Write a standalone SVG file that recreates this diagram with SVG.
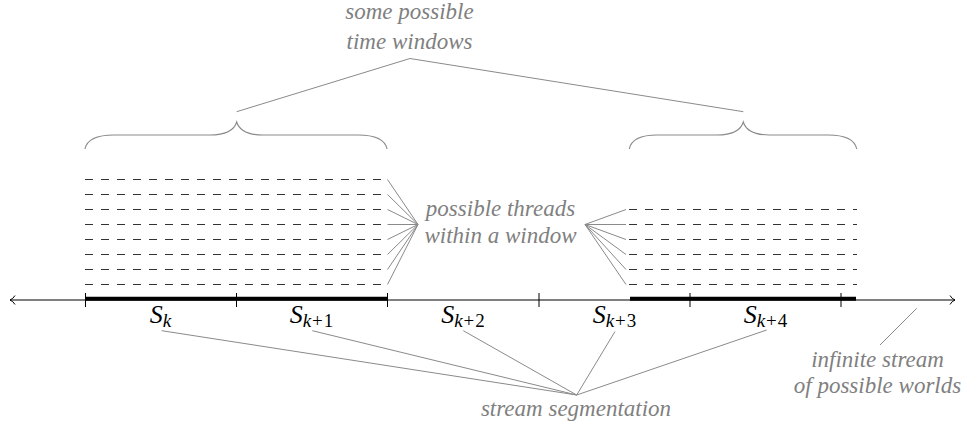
<svg xmlns="http://www.w3.org/2000/svg" width="969" height="431" viewBox="0 0 969 431">
<rect width="969" height="431" fill="#fff"/>

<g id="axis" stroke="#000" stroke-width="1" fill="none">
  <line x1="10" y1="300" x2="955" y2="300"/>
  <path d="M15,295.5 Q13,299 10,300 Q13,301 15,304.5"/>
  <path d="M950,295.5 Q952,299 955,300 Q952,301 950,304.5"/>
  <line x1="85" y1="298.7" x2="387" y2="298.7" stroke-width="4"/>
  <line x1="630" y1="298.7" x2="856" y2="298.7" stroke-width="4"/>
  <line x1="85.5" y1="293" x2="85.5" y2="307"/>
  <line x1="236.5" y1="293" x2="236.5" y2="307"/>
  <line x1="387.5" y1="293" x2="387.5" y2="307"/>
  <line x1="539" y1="293" x2="539" y2="307"/>
  <line x1="690" y1="293" x2="690" y2="307"/>
  <line x1="841" y1="293" x2="841" y2="307"/>
</g>

<g id="seg-k"><text x="160.5" y="323" font-family="'Times New Roman', 'Liberation Serif', serif" font-size="26" fill="#000" text-anchor="middle"><tspan font-style="italic">S</tspan><tspan font-size="19" font-style="italic" dy="4">k</tspan></text></g>
<g id="seg-k1"><text x="311.5" y="323" font-family="'Times New Roman', 'Liberation Serif', serif" font-size="26" fill="#000" text-anchor="middle"><tspan font-style="italic">S</tspan><tspan font-size="19" dy="4"><tspan font-style="italic">k</tspan><tspan dx="1">+</tspan><tspan dx="1">1</tspan></tspan></text></g>
<g id="seg-k2"><text x="463" y="323" font-family="'Times New Roman', 'Liberation Serif', serif" font-size="26" fill="#000" text-anchor="middle"><tspan font-style="italic">S</tspan><tspan font-size="19" dy="4"><tspan font-style="italic">k</tspan><tspan dx="1">+</tspan><tspan dx="1">2</tspan></tspan></text></g>
<g id="seg-k3"><text x="614.5" y="323" font-family="'Times New Roman', 'Liberation Serif', serif" font-size="26" fill="#000" text-anchor="middle"><tspan font-style="italic">S</tspan><tspan font-size="19" dy="4"><tspan font-style="italic">k</tspan><tspan dx="1">+</tspan><tspan dx="1">3</tspan></tspan></text></g>
<g id="seg-k4"><text x="765.5" y="323" font-family="'Times New Roman', 'Liberation Serif', serif" font-size="26" fill="#000" text-anchor="middle"><tspan font-style="italic">S</tspan><tspan font-size="19" dy="4"><tspan font-style="italic">k</tspan><tspan dx="1">+</tspan><tspan dx="1">4</tspan></tspan></text></g>

<g id="threads-left" stroke="#333" stroke-width="1" stroke-dasharray="8 8" fill="none">
  <line x1="85" y1="179.5" x2="387" y2="179.5"/>
  <line x1="85" y1="194.5" x2="387" y2="194.5"/>
  <line x1="85" y1="209.5" x2="387" y2="209.5"/>
  <line x1="85" y1="224.5" x2="387" y2="224.5"/>
  <line x1="85" y1="239.5" x2="387" y2="239.5"/>
  <line x1="85" y1="254.5" x2="387" y2="254.5"/>
  <line x1="85" y1="269.5" x2="387" y2="269.5"/>
  <line x1="85" y1="284.5" x2="387" y2="284.5"/>
</g>
<g id="threads-right" stroke="#333" stroke-width="1" stroke-dasharray="8 8" fill="none">
  <line x1="629" y1="209.5" x2="857" y2="209.5"/>
  <line x1="629" y1="224.5" x2="857" y2="224.5"/>
  <line x1="629" y1="239.5" x2="857" y2="239.5"/>
  <line x1="629" y1="254.5" x2="857" y2="254.5"/>
  <line x1="629" y1="269.5" x2="857" y2="269.5"/>
  <line x1="629" y1="284.5" x2="857" y2="284.5"/>
</g>

<g id="window-left" stroke="#8a8a8a" stroke-width="1.1" fill="none">
  <path d="M85,149 C87,139 97,135 114,135 L210,135 C225,135 234,131 236.7,122 C239.4,131 248,135 263,135 L358,135 C375,135 385,139 387,149"/>
</g>
<g id="window-right" stroke="#8a8a8a" stroke-width="1.1" fill="none">
  <path d="M629.3,149 C631.3,139 641,135 657,135 L717,135 C732,135 740.6,131 743.3,122 C746,131 754.6,135 769.6,135 L828,135 C845,135 854.7,139 856.7,149"/>
</g>

<g id="label-windows">
  <text x="409.5" y="18.5" font-family="'Times New Roman', 'Liberation Serif', serif" font-style="italic" font-size="23" fill="#808080" text-anchor="middle">some possible</text>
  <text x="409.5" y="48.5" font-family="'Times New Roman', 'Liberation Serif', serif" font-style="italic" font-size="23" fill="#808080" text-anchor="middle">time windows</text>
</g>
<g id="label-threads">
  <text x="500.5" y="215.5" font-family="'Times New Roman', 'Liberation Serif', serif" font-style="italic" font-size="23" fill="#808080" text-anchor="middle">possible threads</text>
  <text x="500.5" y="243" font-family="'Times New Roman', 'Liberation Serif', serif" font-style="italic" font-size="23" fill="#808080" text-anchor="middle">within a window</text>
</g>
<g id="label-segmentation">
  <text x="576" y="416" font-family="'Times New Roman', 'Liberation Serif', serif" font-style="italic" font-size="23" fill="#808080" text-anchor="middle">stream segmentation</text>
</g>
<g id="label-stream">
  <text x="877.5" y="367" font-family="'Times New Roman', 'Liberation Serif', serif" font-style="italic" font-size="23" fill="#808080" text-anchor="middle">infinite stream</text>
  <text x="877.5" y="393" font-family="'Times New Roman', 'Liberation Serif', serif" font-style="italic" font-size="23" fill="#808080" text-anchor="middle">of possible worlds</text>
</g>

<g id="connectors" stroke="#8a8a8a" stroke-width="1" fill="none">
  <polyline points="236.7,111.7 410,58.5 743.3,111.7"/>
  <line x1="387.5" y1="179.5" x2="418" y2="224.5"/>
  <line x1="387.5" y1="194.5" x2="418" y2="224.5"/>
  <line x1="387.5" y1="209.5" x2="418" y2="224.5"/>
  <line x1="387.5" y1="224.5" x2="418" y2="224.5"/>
  <line x1="387.5" y1="239.5" x2="418" y2="224.5"/>
  <line x1="387.5" y1="254.5" x2="418" y2="224.5"/>
  <line x1="387.5" y1="269.5" x2="418" y2="224.5"/>
  <line x1="387.5" y1="284.5" x2="418" y2="224.5"/>
  <line x1="626" y1="209.5" x2="585" y2="224.5"/>
  <line x1="626" y1="224.5" x2="585" y2="224.5"/>
  <line x1="626" y1="239.5" x2="585" y2="224.5"/>
  <line x1="626" y1="254.5" x2="585" y2="224.5"/>
  <line x1="626" y1="269.5" x2="585" y2="224.5"/>
  <line x1="626" y1="284.5" x2="585" y2="224.5"/>
  <line x1="161.7" y1="330.7" x2="576.7" y2="395"/>
  <line x1="312.3" y1="330.7" x2="576.7" y2="395"/>
  <line x1="463.3" y1="330.7" x2="576.7" y2="395"/>
  <line x1="615" y1="331.5" x2="576.7" y2="395"/>
  <line x1="766.7" y1="330" x2="576.7" y2="395"/>
  <line x1="880" y1="345" x2="916.7" y2="308.3"/>
</g>
</svg>
